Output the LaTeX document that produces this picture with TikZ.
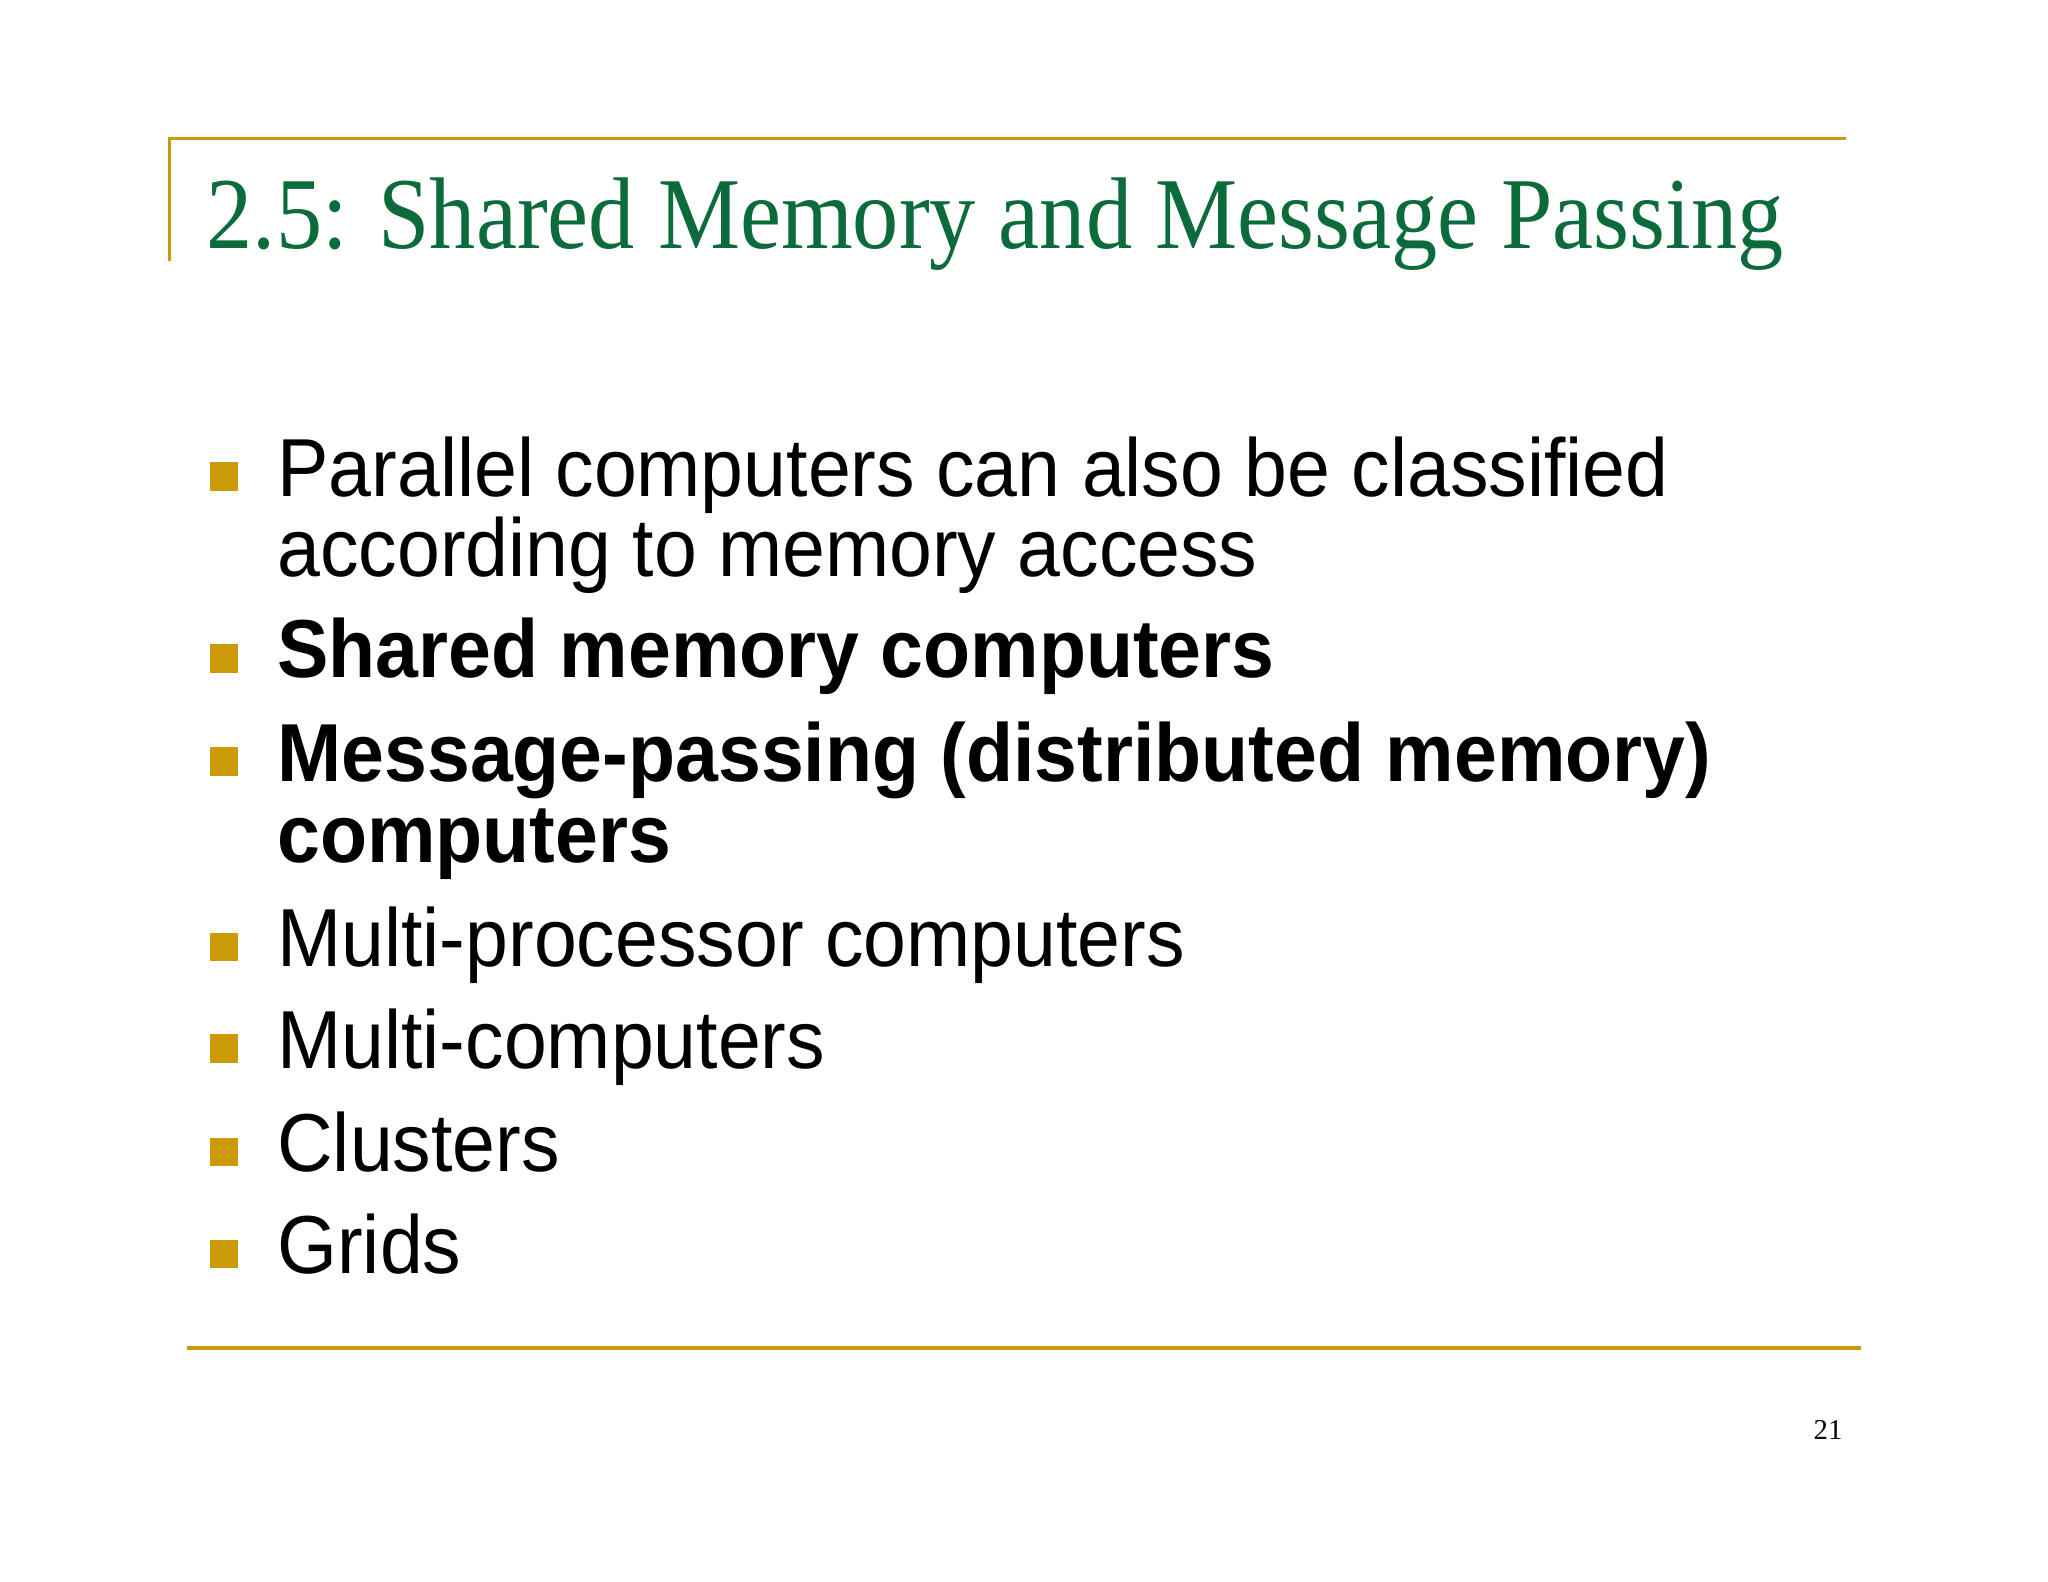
\documentclass[tikz,border=0pt]{standalone}
\usepackage{fontspec}
\setmainfont{Liberation Serif}
\newfontfamily\bodyfont{Liberation Sans}
\definecolor{gold}{HTML}{CC9A06}
\definecolor{ttl}{HTML}{0B6B3A}
\begin{document}
\begin{tikzpicture}[x=0.5pt,y=-0.5pt,
  bul/.style={fill=gold,minimum size=11pt,inner sep=0pt},
  txt/.style={anchor=base west,inner sep=0pt,xscale=0.936,font=\bodyfont\fontsize{31.5pt}{31.5pt}\selectfont},
  btxt/.style={txt,font=\bodyfont\bfseries\fontsize{31.5pt}{31.5pt}\selectfont}]
\fill[white] (0,0) rectangle (1568,1211);
\useasboundingbox (0,0) rectangle (1568,1211);
\draw[gold,line width=1.2pt] (130,200) -- (130,106) -- (1413,106);
\draw[gold,line width=1.2pt] (143,1032) -- (1425,1032);
\node[anchor=base west,inner sep=0pt,xscale=0.906,text=ttl,font=\fontsize{39pt}{39pt}\selectfont] (title) at (158,190) {2.5: Shared Memory and Message Passing};
\foreach \i/\y in {1/380,2/519,3/598,4/740,5/818,6/897,7/975}{
  \node[bul] (b\i) at (171.5,\y-15) {};
}
\node[txt] (t1) at (212,380) {Parallel computers can also be classified};
\node[txt] (t1b) at (212,441) {according to memory access};
\node[btxt] (t2) at (212,519) {Shared memory computers};
\node[btxt] (t3) at (212,598) {Message-passing (distributed memory)};
\node[btxt] (t3b) at (212,660) {computers};
\node[txt] (t4) at (212,740) {Multi-processor computers};
\node[txt] (t5) at (212,818) {Multi-computers};
\node[txt] (t6) at (212,897) {Clusters};
\node[txt] (t7) at (212,975) {Grids};
\node[anchor=base east,inner sep=0pt,font=\fontsize{11pt}{11pt}\selectfont] (pg) at (1411,1102) {21};
\end{tikzpicture}
\end{document}
